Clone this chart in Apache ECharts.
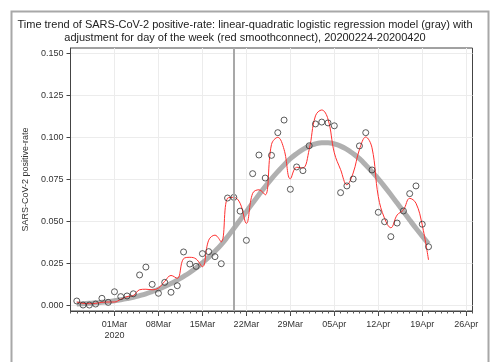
<!DOCTYPE html>
<html>
<head>
<meta charset="utf-8">
<script src="https://cdn.jsdelivr.net/npm/echarts@6/dist/echarts.min.js"></script>
<style>
  html, body { margin: 0; padding: 0; background: #fff; }
  #chart { width: 490px; height: 362px; }
</style>
</head>
<body>
<div id="chart"></div>
<script>
// daily observations 20200224-20200420
const dates = [
  '2020-02-24', '2020-02-25', '2020-02-26', '2020-02-27', '2020-02-28', '2020-02-29',
  '2020-03-01', '2020-03-02', '2020-03-03', '2020-03-04', '2020-03-05', '2020-03-06', '2020-03-07',
  '2020-03-08', '2020-03-09', '2020-03-10', '2020-03-11', '2020-03-12', '2020-03-13', '2020-03-14',
  '2020-03-15', '2020-03-16', '2020-03-17', '2020-03-18', '2020-03-19', '2020-03-20', '2020-03-21',
  '2020-03-22', '2020-03-23', '2020-03-24', '2020-03-25', '2020-03-26', '2020-03-27', '2020-03-28',
  '2020-03-29', '2020-03-30', '2020-03-31', '2020-04-01', '2020-04-02', '2020-04-03', '2020-04-04',
  '2020-04-05', '2020-04-06', '2020-04-07', '2020-04-08', '2020-04-09', '2020-04-10', '2020-04-11',
  '2020-04-12', '2020-04-13', '2020-04-14', '2020-04-15', '2020-04-16', '2020-04-17', '2020-04-18',
  '2020-04-19', '2020-04-20',
]
// observed positive-rate (circles)
const observed = [
  0.0028, 0.0004, 0.0004, 0.0010, 0.0044, 0.0020,
  0.0083, 0.0054, 0.0058, 0.0071, 0.0183, 0.0230, 0.0127,
  0.0074, 0.0139, 0.0080, 0.0119, 0.0320, 0.0248, 0.0234,
  0.0310, 0.0322, 0.0292, 0.0250, 0.0641, 0.0645, 0.0563,
  0.0389, 0.0786, 0.0897, 0.0760, 0.0895, 0.1030, 0.1105,
  0.0693, 0.0826, 0.0804, 0.0952, 0.1082, 0.1093, 0.1088,
  0.1071, 0.0673, 0.0713, 0.0754, 0.0951, 0.1030, 0.0808,
  0.0556, 0.0500, 0.0411, 0.0492, 0.0564, 0.0667, 0.0713,
  0.0485, 0.0351,
]
// linear-quadratic logistic model (gray)
const fitted = [
  0.0010, 0.0012, 0.0014, 0.0017, 0.0020, 0.0024,
  0.0029, 0.0035, 0.0042, 0.0050, 0.0060, 0.0071, 0.0084,
  0.0098, 0.0114, 0.0132, 0.0152, 0.0174, 0.0198, 0.0225,
  0.0255, 0.0288, 0.0324, 0.0364, 0.0410, 0.0460, 0.0510,
  0.0560, 0.0611, 0.0661, 0.0709, 0.0755, 0.0798, 0.0838,
  0.0875, 0.0905, 0.0930, 0.0950, 0.0963, 0.0970, 0.0970,
  0.0963, 0.0950, 0.0930, 0.0905, 0.0875, 0.0838, 0.0798,
  0.0755, 0.0709, 0.0661, 0.0611, 0.0560, 0.0510, 0.0461,
  0.0414, 0.0368,
]
// model with day-of-week adjustment (red)
const adjusted = [
  0.0022, 0.0014, 0.0012, 0.0014, 0.0020, 0.0022,
  0.0022, 0.0038, 0.0054, 0.0060, 0.0095, 0.0098, 0.0095,
  0.0105, 0.0145, 0.0180, 0.0163, 0.0280, 0.0288, 0.0278,
  0.0232, 0.0390, 0.0420, 0.0380, 0.0640, 0.0645, 0.0610,
  0.0490, 0.0669, 0.0690, 0.0660, 0.0960, 0.1002, 0.0930,
  0.0755, 0.0824, 0.0820, 0.0930, 0.1130, 0.1165, 0.1110,
  0.0910, 0.0810, 0.0720, 0.0790, 0.0930, 0.1004, 0.0940,
  0.0650, 0.0520, 0.0464, 0.0540, 0.0570, 0.0639, 0.0610,
  0.0480, 0.0272,
]
const xTickDates = ['2020-03-01', '2020-03-08', '2020-03-15', '2020-03-22', '2020-03-29',
  '2020-04-05', '2020-04-12', '2020-04-19', '2020-04-26']
const yTicks = [0, 0.025, 0.05, 0.075, 0.1, 0.125, 0.15]
const cutDate = '2020-03-20'
const titleText = 'Time trend of SARS-CoV-2 positive-rate: linear-quadratic logistic regression model (gray) with\n' +
  'adjustment for day of the week (red smoothconnect), 20200224-20200420'

const DAY0 = Date.UTC(2020, 2, 1)
const MON = ['Jan', 'Feb', 'Mar', 'Apr', 'May', 'Jun', 'Jul', 'Aug', 'Sep', 'Oct', 'Nov', 'Dec']
const dayOf = (s) => {
  const [y, m, d] = s.split('-').map(Number)
  return (Date.UTC(y, m - 1, d) - DAY0) / 86400000
}
const fmtDay = (v) => {
  const dt = new Date(DAY0 + Math.round(v) * 86400000)
  const s = String(dt.getUTCDate()).padStart(2, '0') + MON[dt.getUTCMonth()]
  return v === 0 ? s + '\n' + dt.getUTCFullYear() : s
}

const days = dates.map(dayOf)
const pts = (arr) => arr.map((v, i) => [days[i], v])

const FONT = '"Liberation Sans", Arial, sans-serif'
const TXT = '#333'

const chart = echarts.init(document.getElementById('chart'), null, { renderer: 'canvas' })
chart.setOption({
  animation: false,
  backgroundColor: '#fff',
  textStyle: { fontFamily: FONT },
  title: {
    text: titleText,
    left: 'center',
    top: 14,
    textStyle: { fontSize: 11, fontWeight: 'normal', color: '#222', lineHeight: 12.5, fontFamily: FONT },
  },
  graphic: [
    {
      type: 'rect',
      left: 9, top: 9,
      shape: { width: 477, height: 370 },
      style: { fill: 'none', stroke: '#a8a8a8', lineWidth: 2 },
      silent: true,
    },
  ],
  grid: {
    left: 70.5, right: 17.5, top: 48, bottom: 51,
    show: true, borderColor: '#444', borderWidth: 1, backgroundColor: 'transparent',
  },
  xAxis: [
    {
      type: 'value',
      min: -7, max: 57,
      axisLine: { show: true, onZero: false, lineStyle: { color: '#444' } },
      axisTick: { show: true, length: 5, customValues: xTickDates.map(dayOf), lineStyle: { color: '#444' } },
      axisLabel: {
        customValues: xTickDates.map(dayOf),
        formatter: fmtDay,
        color: TXT, fontSize: 9, margin: 8, lineHeight: 11, fontFamily: FONT,
      },
      splitLine: { show: true, lineStyle: { color: '#ececec', width: 1 } },
    },
    {
      type: 'value',
      min: -7, max: 57, interval: 1,
      position: 'bottom',
      axisLine: { show: false, onZero: false },
      axisTick: { show: true, length: 2.5, lineStyle: { color: '#555' } },
      axisLabel: { show: false },
      splitLine: { show: false },
    },
  ],
  yAxis: {
    type: 'value',
    min: -0.00315, max: 0.1534,
    name: 'SARS-CoV-2 positive-rate',
    nameLocation: 'middle',
    nameGap: 34,
    nameTextStyle: { fontSize: 9, color: TXT, fontFamily: FONT },
    axisLine: { show: true, onZero: false, lineStyle: { color: '#444' } },
    axisTick: { show: true, length: 4, customValues: yTicks, lineStyle: { color: '#444' } },
    axisLabel: {
      customValues: yTicks,
      formatter: (v) => v.toFixed(3),
      color: TXT, fontSize: 9, margin: 7, fontFamily: FONT,
    },
    splitLine: { show: true, lineStyle: { color: '#ececec', width: 1 } },
  },
  series: [
    {
      name: 'model',
      type: 'line',
      data: pts(fitted),
      smooth: true,
      showSymbol: false,
      lineStyle: { color: 'rgba(150,150,150,0.75)', width: 5 },
      z: 2,
      silent: true,
    },
    {
      name: 'dow adjusted',
      type: 'line',
      data: pts(adjusted),
      smooth: 0.4,
      showSymbol: false,
      lineStyle: { color: '#ff3030', width: 1 },
      z: 3,
      silent: true,
    },
    {
      name: 'observed',
      type: 'scatter',
      data: pts(observed),
      symbol: 'circle',
      symbolSize: 6,
      itemStyle: { color: 'rgba(255,255,255,0)', borderColor: '#333', borderWidth: 1 },
      z: 4,
      markLine: {
        silent: true,
        symbol: 'none',
        label: { show: false },
        lineStyle: { color: '#a8a8a8', width: 2, type: 'solid' },
        data: [{ xAxis: dayOf(cutDate) }],
      },
    },
  ],
})
</script>
</body>
</html>
